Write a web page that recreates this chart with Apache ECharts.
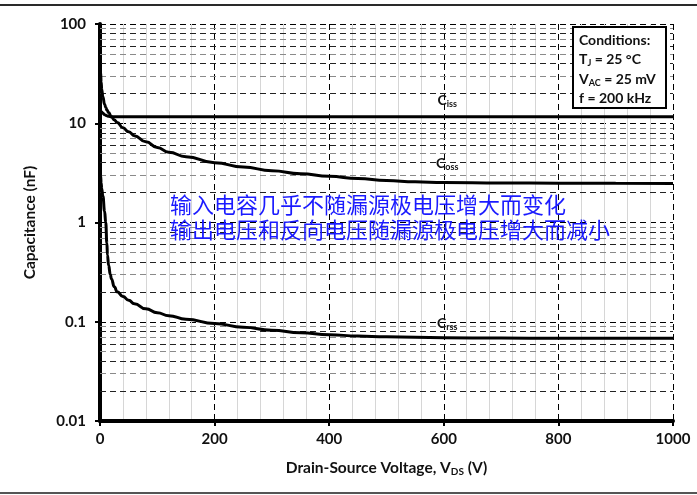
<!DOCTYPE html>
<html>
<head>
<meta charset="utf-8">
<script src="https://cdn.jsdelivr.net/npm/echarts@6/dist/echarts.min.js"></script>
<style>html,body{margin:0;padding:0;background:#fff}#c{width:697px;height:495px}</style>
</head>
<body>
<div id="c"></div>
<script>
// ---- data ----
const vCiss = [0, 1, 3, 5, 8, 12, 15, 20, 25, 40, 100, 200, 400, 600, 800, 1000];
const ciss  = [13.5, 13.3, 13.0, 12.6, 12.2, 11.9, 11.75, 11.65, 11.6, 11.6, 11.6, 11.6, 11.6, 11.6, 11.6, 11.6];

const vCoss = [0, 1, 2, 3, 5, 8, 10, 12, 15, 20, 25, 30, 40, 50, 60, 80, 100, 120, 150, 200, 250, 300, 350, 400, 450, 500, 550, 600, 700, 800, 900, 1000];
const coss  = [42, 33, 26, 22, 18.5, 15.5, 14.5, 13.6, 12.8, 11.6, 10.8, 10.2, 9.0, 8.2, 7.5, 6.5, 5.7, 5.1, 4.6, 4.0, 3.62, 3.32, 3.1, 2.92, 2.77, 2.65, 2.57, 2.53, 2.5, 2.49, 2.48, 2.47];

const vCrss = [0, 1, 2, 3, 5, 8, 10, 12, 13, 15, 18, 20, 25, 30, 40, 50, 60, 80, 100, 120, 150, 200, 250, 300, 350, 400, 450, 500, 600, 700, 800, 900, 1000];
const crss  = [3.5, 3.0, 2.5, 2.2, 1.85, 1.3, 1.0, 0.62, 0.47, 0.37, 0.3, 0.27, 0.225, 0.2, 0.18, 0.165, 0.152, 0.135, 0.123, 0.115, 0.106, 0.096, 0.088, 0.082, 0.0775, 0.074, 0.0718, 0.0705, 0.069, 0.0685, 0.068, 0.068, 0.068];

const curveLabels = ['iss', 'oss', 'rss'];
const curveLabelX = [606, 606, 606];
const curveLabelY = [17, 3.95, 0.097];

const xTicks = [0, 200, 400, 600, 800, 1000];
const yDecades = [0.01, 0.1, 1, 10, 100];
const minorMult = [2, 3, 4, 5, 6, 7, 8, 9];

const conditionLines = ['Conditions:', 'T{s|J} = 25 °C', 'V{s|AC} = 25 mV', 'f = 200 kHz'];
const noteLines = ['输入电容几乎不随漏源极电压增大而变化', '输出电压和反向电压随漏源极电压增大而减小'];

// ---- build ----
const zip = (xs, ys) => xs.map((x, i) => [x, ys[i]]);
const FONT = 'Lato';
const minorLines = [];
yDecades.slice(0, -1).forEach(d => {
  minorMult.forEach((m, j) => {
    minorLines.push({ yAxis: +(d * m).toPrecision(3), lineStyle: { color: (j % 2 === 0) ? '#222' : '#8a8a8a' } });
  });
});

const lineCommon = {
  type: 'line', showSymbol: false, symbol: 'none', smooth: 0.5, smoothMonotone: 'x',
  lineStyle: { color: '#000', width: 3 }, z: 5, silent: true
};

const staticGraphic = [
  { type: 'line', shape: { x1: 0, y1: 5, x2: 697, y2: 5 }, style: { stroke: '#2a2a2a', lineWidth: 2 }, z: 10 },
  { type: 'line', shape: { x1: 0, y1: 493, x2: 697, y2: 493 }, style: { stroke: '#555', lineWidth: 2 }, z: 10 },
  { type: 'rect', shape: { x: 573, y: 27, width: 93, height: 81 }, style: { fill: '#fff', stroke: '#000', lineWidth: 2 }, z: 20 },
  { type: 'text', left: 579, top: 31, z: 21,
    style: { text: conditionLines.join('\n'), fontFamily: FONT, fontWeight: 'bold', fontSize: 14, lineHeight: 19.3, fill: '#111',
      rich: { s: { fontFamily: FONT, fontWeight: 'bold', fontSize: 9, fill: '#111', padding: [7, 0, 0, 0], lineHeight: 19.3 } } } },
  { type: 'text', left: 170, top: 192, z: 21,
    style: { text: noteLines.join('\n'), fontFamily: 'Noto Sans CJK SC', fontSize: 22, lineHeight: 25, fill: '#1a1aff' } }
];

const option = {
  animation: false,
  backgroundColor: '#fff',
  grid: { left: 100, right: 24, top: 24, bottom: 74, containLabel: false },
  xAxis: {
    type: 'value', min: 0, max: 1000, interval: 200,
    axisLine: { onZero: false, lineStyle: { color: '#000', width: 4 } },
    axisTick: { show: true, length: 5, lineStyle: { color: '#000', width: 2 } },
    axisLabel: { color: '#111', fontFamily: FONT, fontWeight: 'bold', fontSize: 15, margin: 11,
      formatter: v => xTicks.includes(v) ? String(v) : '' },
    splitLine: { show: true, lineStyle: { color: '#000', width: 1, type: [6, 4] } },
    minorTick: { show: false, splitNumber: 5 },
    minorSplitLine: { show: true, lineStyle: { color: '#d6d6d6', width: 1 } },
    name: 'Drain-Source Voltage, V{s|DS} (V)', nameLocation: 'middle', nameGap: 37,
    nameTextStyle: { color: '#111', fontFamily: FONT, fontWeight: 'bold', fontSize: 15.5,
      rich: { s: { fontFamily: FONT, fontWeight: 'bold', fontSize: 10, padding: [9, 0, 0, 0], color: '#111' } } }
  },
  yAxis: {
    type: 'log', logBase: 10, min: 0.01, max: 100,
    axisLine: { onZero: false, lineStyle: { color: '#000', width: 4 } },
    axisTick: { show: true, length: 5, lineStyle: { color: '#000', width: 2 } },
    axisLabel: { color: '#111', fontFamily: FONT, fontWeight: 'bold', fontSize: 15, margin: 14,
      formatter: v => String(+v.toPrecision(3)) },
    splitLine: { show: true, lineStyle: { color: '#000', width: 1, type: [6, 4] } },
    name: 'Capacitance (nF)', nameLocation: 'middle', nameGap: 62,
    nameTextStyle: { color: '#111', fontFamily: FONT, fontWeight: 'bold', fontSize: 15.5 }
  },
  series: [
    {
      type: 'line', data: [], silent: true, z: 1,
      markLine: { silent: true, symbol: 'none', label: { show: false }, animation: false,
        lineStyle: { type: [6, 4], width: 1 }, data: minorLines }
    },
    Object.assign({ data: zip(vCiss, ciss) }, lineCommon),
    Object.assign({ data: zip(vCoss, coss) }, lineCommon),
    Object.assign({ data: zip(vCrss, crss) }, lineCommon)
  ],
  graphic: staticGraphic
};

const chart = echarts.init(document.getElementById('c'), null, { renderer: 'canvas' });
chart.setOption(option);

// curve name labels placed through the chart's own axes
const labelGraphic = curveLabels.map((n, i) => {
  const p = chart.convertToPixel({ gridIndex: 0 }, [curveLabelX[i], curveLabelY[i]]);
  return {
    type: 'text', x: p[0], y: p[1], z: 15,
    style: {
      text: '{c|C}{s|' + n + '}', align: 'center', verticalAlign: 'middle',
      rich: {
        c: { fontFamily: FONT, fontWeight: 'bold', fontSize: 14, fill: '#111' },
        s: { fontFamily: FONT, fontWeight: 'bold', fontSize: 9, fill: '#111', padding: [8, 0, 0, 0] }
      }
    }
  };
});
chart.setOption({ graphic: staticGraphic.concat(labelGraphic) });
</script>
</body>
</html>
